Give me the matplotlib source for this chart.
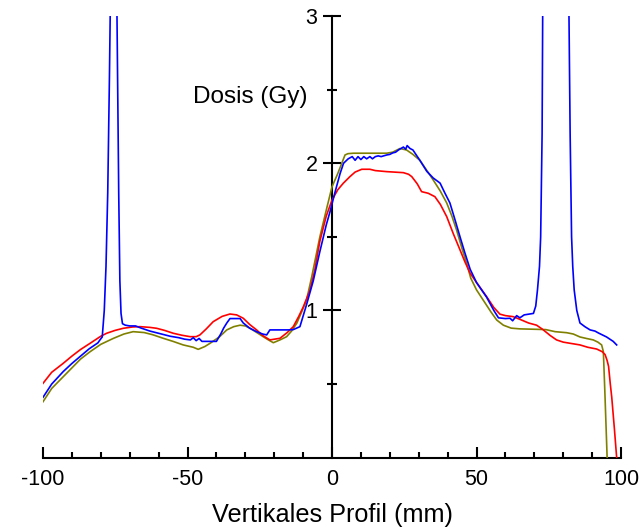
import matplotlib
matplotlib.use("Agg")
import matplotlib.pyplot as plt
from matplotlib.ticker import MultipleLocator, FixedLocator

plt.rcParams['font.family'] = ['Liberation Sans', 'DejaVu Sans']

blue_x = [-100, -97, -93, -90, -87, -84, -81, -80.3, -79.5, -78.8, -78.2, -77.6, -77.0, -76.5, -75.5,
          -74.6, -74.2, -73.8, -73.4, -73.0, -72.5, -71.5, -70, -68, -66, -63, -60, -56, -53, -51, -49,
          -48, -47, -46, -45, -44.5, -42, -40, -38.5, -37.5, -36.4, -35.3, -33, -31.8, -30.7, -28.5,
          -26.1, -24, -22.6, -21.5, -19, -16.9, -15, -13.4, -11.1, -8.8, -6.5, -4.2, -2, -0.7, 1, 2.8,
          4, 5.6, 7, 8, 9, 10, 11, 12, 13.1, 14, 15, 16, 17, 18.9, 20, 21, 22, 23, 24.7, 25.5, 26, 27,
          28, 30.4, 32.8, 35, 37.4, 39, 40.8, 42.5, 44.3, 46, 47.8, 50, 53.5, 56, 57.6, 60, 61.6, 62.5,
          63.9, 65, 66.5, 68, 69.7, 70.5, 71.1, 71.8, 72.2, 72.7, 72.9, 73.8, 77.5, 81.2, 82.0, 82.4,
          82.9, 83.3, 83.8, 84.7, 85.8, 87.5, 89.3, 91, 92.2, 94, 95, 96.5, 97.3, 98.5]
blue_y = [0.41, 0.50, 0.585, 0.64, 0.69, 0.74, 0.78, 0.80, 0.82, 1.0, 1.3, 1.8, 2.6, 3.4, 4.5,
          3.4, 2.6, 1.8, 1.2, 0.98, 0.91, 0.90, 0.895, 0.895, 0.88, 0.86, 0.845, 0.825, 0.815, 0.805, 0.80,
          0.815, 0.795, 0.81, 0.79, 0.79, 0.79, 0.79, 0.84, 0.88, 0.915, 0.945, 0.945, 0.945, 0.915, 0.88,
          0.856, 0.84, 0.834, 0.868, 0.868, 0.868, 0.868, 0.870, 0.89, 1.04, 1.20, 1.40, 1.58, 1.67, 1.80, 1.93,
          2.00, 2.03, 2.045, 2.02, 2.045, 2.025, 2.045, 2.03, 2.045, 2.03, 2.045, 2.05, 2.045, 2.056, 2.06, 2.07, 2.075, 2.09, 2.11, 2.095, 2.12, 2.10,
          2.09, 2.02, 1.945, 1.90, 1.865, 1.80, 1.73, 1.62, 1.50, 1.39, 1.28, 1.19, 1.09, 1.00, 0.95, 0.945, 0.947, 0.93,
          0.965, 0.95, 0.97, 0.975, 0.98, 1.03, 1.14, 1.30, 1.50, 2.2, 3.0, 4.2, 5.0, 4.2, 3.0, 2.2,
          1.5, 1.3, 1.14, 1.00, 0.915, 0.89, 0.868, 0.86, 0.847, 0.83, 0.82, 0.80, 0.79, 0.766]

olive_x = [-100, -97, -93, -90, -87, -83.7, -80, -75.7, -72, -68.8, -65, -62, -58.4, -55, -51.5, -48,
           -46.3, -44, -42.2, -39, -36.4, -34, -31.8, -30, -28.4, -26, -23.8, -22, -20.3, -18, -15.7, -14,
           -12.2, -10.5, -8.8, -7, -4.2, -2, 0, 2, 4.5, 5.5, 7.4, 18.9, 21, 23.5, 25.8, 28, 30.4, 32.5, 35,
           37.5, 39.7, 41.5, 43.1, 45, 46.6, 48, 50, 53, 55, 57, 59.3, 62, 65, 70.8, 74, 77.2, 81.2, 83.5,
           85.8, 88, 90.4, 92, 93.3, 93.9, 94.5, 95.2, 95.8]
olive_y = [0.38, 0.47, 0.55, 0.61, 0.67, 0.72, 0.77, 0.81, 0.84, 0.856, 0.85, 0.835, 0.811, 0.79, 0.766, 0.75,
           0.736, 0.755, 0.777, 0.82, 0.868, 0.89, 0.90, 0.895, 0.879, 0.85, 0.822, 0.80, 0.781, 0.80, 0.822, 0.86,
           0.913, 0.99, 1.071, 1.23, 1.50, 1.68, 1.84, 1.93, 2.056, 2.065, 2.068, 2.068, 2.075, 2.10, 2.09, 2.06, 2.02, 1.96, 1.887,
           1.81, 1.73, 1.64, 1.547, 1.42, 1.32, 1.22, 1.14, 1.05, 0.99, 0.935, 0.90, 0.88, 0.875, 0.872, 0.87, 0.856, 0.849, 0.84,
           0.82, 0.81, 0.80, 0.785, 0.766, 0.72, 0.40, 0.0, -0.3]

red_x = [-100, -97, -93, -90, -87, -83.7, -80, -78, -75, -72.2, -69, -66.4, -63, -60.7, -58, -54.9, -52,
         -49.1, -47, -45.7, -43.5, -41.1, -38, -35.3, -33, -30.7, -28.5, -26.1, -24, -21.5, -18, -15.5, -13.4,
         -11.5, -9.9, -7.6, -6, -4.2, -2, 0, 2, 3.9, 6.2, 8, 10.3, 13.1, 15, 18.9, 24.7, 26.5, 27.6, 29.5, 31,
         33.3, 35.6, 37.5, 39.7, 42, 44.3, 46, 47.8, 50, 53.5, 56, 58.1, 60, 62.7, 65, 68, 70.8, 73, 75.5, 77.7,
         80, 82.4, 85.8, 88.5, 91.6, 93.5, 94.5, 95.2, 95.7, 96.3, 96.8, 97.7, 98.5, 99.8]
red_y = [0.505, 0.58, 0.641, 0.69, 0.735, 0.777, 0.825, 0.845, 0.865, 0.879, 0.888, 0.89, 0.885, 0.879, 0.865, 0.845, 0.832,
         0.822, 0.822, 0.834, 0.875, 0.924, 0.96, 0.976, 0.97, 0.947, 0.905, 0.868, 0.83, 0.80, 0.811, 0.85, 0.89,
         0.96, 1.026, 1.139, 1.27, 1.47, 1.64, 1.75, 1.82, 1.864, 1.909, 1.94, 1.959, 1.959, 1.95, 1.943, 1.936, 1.925, 1.909, 1.86, 1.807,
         1.796, 1.773, 1.72, 1.637, 1.52, 1.411, 1.33, 1.253, 1.19, 1.094, 1.02, 0.975, 0.965, 0.958, 0.94, 0.915, 0.90, 0.87, 0.83, 0.80,
         0.785, 0.777, 0.766, 0.75, 0.738, 0.72, 0.70, 0.66, 0.62, 0.50, 0.41, 0.20, 0.0, -0.2]

x_major = [-100, -50, 0, 50, 100]
x_major_labels = ['-100', '-50', '0', '50', '100']
y_major = [1, 2, 3]
y_major_labels = ['1', '2', '3']

W, H = 640, 531
fig = plt.figure(figsize=(W / 100, H / 100), dpi=100)
ax = fig.add_axes([43 / W, 1 - 457.7 / H, (621 - 43) / W, (457.7 - 16) / H])

ax.plot(olive_x, olive_y, color='#808000', lw=1.2)
ax.plot(red_x, red_y, color='#ff0000', lw=1.2)
ax.plot(blue_x, blue_y, color='#0000ff', lw=1.2)

ax.set_xlim(-100, 100)
ax.set_ylim(0, 3)

ax.spines['left'].set_position(('data', 0))
ax.spines['top'].set_visible(False)
ax.spines['right'].set_visible(False)
for s in ('left', 'bottom'):
    ax.spines[s].set_linewidth(1.5)
    ax.spines[s].set_zorder(1)

ax.xaxis.set_major_locator(FixedLocator(x_major))
ax.set_xticklabels(x_major_labels)
ax.xaxis.set_minor_locator(MultipleLocator(10))
ax.yaxis.set_major_locator(FixedLocator(y_major))
ax.set_yticklabels(y_major_labels)
ax.yaxis.set_minor_locator(FixedLocator([0.5, 1.5, 2.5]))

ax.tick_params(axis='x', which='major', direction='in', length=8, width=1.5, pad=8, labelsize=15.5)
ax.tick_params(axis='x', which='minor', direction='in', length=4, width=1.5)
ax.tick_params(axis='y', which='major', direction='inout', length=13, width=1.5, pad=4, labelsize=15.5)
ax.tick_params(axis='y', which='minor', direction='inout', length=7, width=1.5)

ax.text(-8.5, 2.45, 'Dosis (Gy)', ha='right', va='center', fontsize=17.5)
fig.text(332 / W, 1 - 515 / H, 'Vertikales Profil (mm)', ha='center', va='center', fontsize=18.2)

fig.savefig('out.png', dpi=100)
